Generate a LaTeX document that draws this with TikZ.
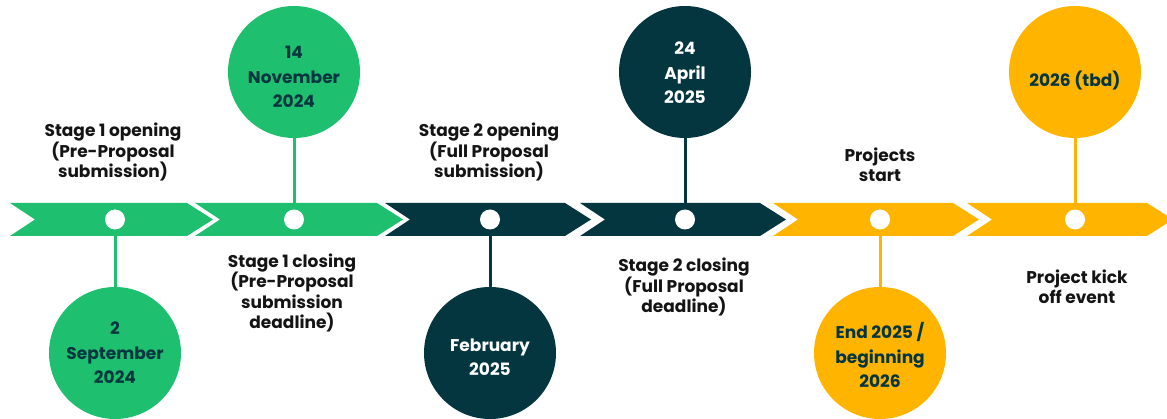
\documentclass[tikz,border=0pt]{standalone}
\usepackage{fontspec}
\setmainfont{Poppins}
\definecolor{cgreen}{RGB}{30,191,110}
\definecolor{cdark}{RGB}{4,54,64}
\definecolor{cyellow}{RGB}{255,180,0}
\definecolor{ctext}{RGB}{20,20,20}
\newcommand\mychev[3]{\fill[#3] (#1,203) -- (#2,203) -- ({#2+26},219.5) -- (#2,236) -- (#1,236) -- ({#1+25},219.5) -- cycle;}
\begin{document}
\begin{tikzpicture}[x=1pt,y=-1pt,
  dot/.style={circle,fill=white,minimum size=20pt,inner sep=0pt},
  big/.style={circle,minimum size=132pt,inner sep=0pt},
  btxt/.style={align=center,inner sep=0pt,font=\bfseries\fontsize{17}{24.5}\selectfont},
  lbl/.style={align=center,font=\bfseries\fontsize{17}{20.5}\selectfont,text=ctext},
  stem/.style={line width=3pt}]
\useasboundingbox (0,0) rectangle (1167,419);
\clip (0,0) rectangle (1167,419);
% chevrons
\mychev{10}{187}{cgreen}
\mychev{195}{377}{cgreen}
\mychev{385}{565}{cdark}
\mychev{580}{760}{cdark}
\mychev{773}{953}{cyellow}
\mychev{967}{1147}{cyellow}
% dots
\node[dot] (d1) at (115,219.5) {};
\node[dot] (d2) at (294,219.5) {};
\node[dot] (d3) at (490,219.5) {};
\node[dot] (d4) at (685,219.5) {};
\node[dot] (d5) at (880,219.5) {};
\node[dot] (d6) at (1075,219.5) {};
% big circles
\node[big,fill=cgreen] (c1) at (115,353) {};
\node[big,fill=cgreen] (c2) at (294,72) {};
\node[big,fill=cdark] (c3) at (490,353) {};
\node[big,fill=cdark] (c4) at (685,72) {};
\node[big,fill=cyellow] (c5) at (880,353) {};
\node[big,fill=cyellow] (c6) at (1075,72) {};
% circle texts
\node[btxt,text=cdark] (t1) at (115,353) {2\\September\\2024};
\node[btxt,text=cdark] (t2) at (294,77) {14\\November\\2024};
\node[btxt,text=white] (t3) at (490,357) {February\\2025};
\node[btxt,text=white] (t4) at (685,73) {24\\April\\2025};
\node[btxt,text=cdark] (t5) at (880,355) {End 2025 /\\beginning\\2026};
\node[btxt,text=cdark] (t6) at (1075,81) {2026 (tbd)};
% stems
\draw[stem,cgreen] (d1) -- (c1);
\draw[stem,cgreen] (d2) -- (c2);
\draw[stem,cdark] (d3) -- (c3);
\draw[stem,cdark] (d4) -- (c4);
\draw[stem,cyellow] (d5) -- (c5);
\draw[stem,cyellow] (d6) -- (c6);
% labels
\node[lbl] (l1) at (113,152) {Stage 1 opening\\(Pre-Proposal\\submission)};
\node[lbl] (l2) at (292,293) {Stage 1 closing\\(Pre-Proposal\\submission\\deadline)};
\node[lbl] (l3) at (489,152) {Stage 2 opening\\(Full Proposal\\submission)};
\node[lbl] (l4) at (684,287) {Stage 2 closing\\(Full Proposal\\deadline)};
\node[lbl] (l5) at (880,165) {Projects\\start};
\node[lbl] (l6) at (1077,287) {Project kick\\off event};
\end{tikzpicture}
\end{document}
